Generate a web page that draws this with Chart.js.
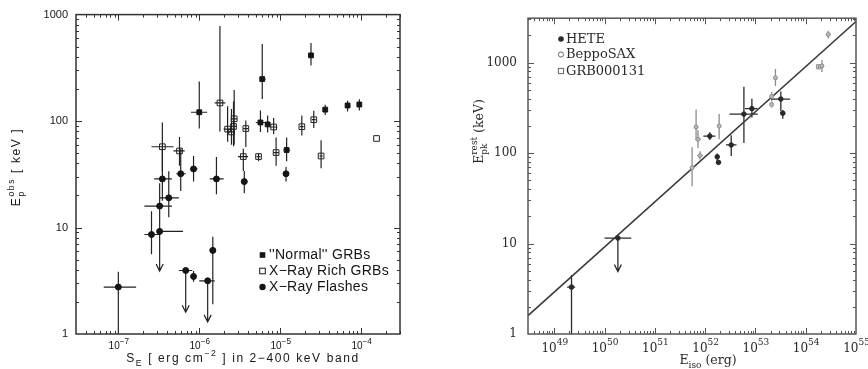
<!DOCTYPE html>
<html><head><meta charset="utf-8">
<script src="https://cdn.jsdelivr.net/npm/chart.js@4/dist/chart.umd.min.js"></script>
<style>
html,body{margin:0;padding:0;background:#fff;}
#wrap{position:relative;width:868px;height:369px;overflow:hidden;}
#c1{position:absolute;left:0;top:0;}
#c2{position:absolute;left:430px;top:0;}
</style></head><body>
<div id="wrap"><canvas id="c1" width="430" height="369"></canvas><canvas id="c2" width="438" height="369"></canvas></div>
<script>
// ================= LEFT PANEL DATA =================
// rows: [S_E, Ep_obs, S_E low, S_E high, Ep low, Ep high]  (null = no bar)
const normalGRBs = [
  [1.0e-6, 121, 7.9e-7, 1.25e-6, 85, 235],
  [6.0e-6, 248, 5.6e-6, 6.6e-6, 161, 530],
  [2.4e-5, 414, null, null, 332, 540],
  [5.7e-6, 97, 5.0e-6, 6.6e-6, 79, 126],
  [7.0e-6, 93, 6.5e-6, 7.5e-6, 78, 113],
  [1.2e-5, 53.5, 1.1e-5, 1.33e-5, 42, 70],
  [3.6e-5, 128, null, null, 114, 142],
  [6.8e-5, 140, null, null, 123, 155],
  [9.5e-5, 143, null, null, 126, 160]
];
const xrayRichGRBs = [
  [3.5e-7, 57.4, 2.57e-7, 4.8e-7, 34, 97],
  [5.7e-7, 52.4, 4.8e-7, 6.6e-7, 38, 71],
  [1.8e-6, 148, 1.55e-6, 2.1e-6, 80, 780],
  [2.24e-6, 84, 2.0e-6, 2.5e-6, 64, 138],
  [2.5e-6, 79, 2.3e-6, 2.7e-6, 60, 130],
  [2.7e-6, 105, 2.45e-6, 2.95e-6, 60, 196],
  [2.65e-6, 89, 2.45e-6, 2.85e-6, 58, 153],
  [3.76e-6, 85, 3.5e-6, 4.0e-6, 57, 101],
  [3.5e-6, 46.4, 3.0e-6, 4.0e-6, 34, 55],
  [5.4e-6, 46.4, 5.1e-6, 5.7e-6, 42, 50],
  [8.9e-6, 50.6, 8.3e-6, 9.6e-6, 38, 70],
  [8.3e-6, 88, 7.5e-6, 9.2e-6, 75, 107],
  [1.85e-5, 88.5, 1.75e-5, 1.95e-5, 73, 113],
  [2.6e-5, 103, 2.45e-5, 2.75e-5, 86, 125],
  [3.2e-5, 47, 3.05e-5, 3.35e-5, 36, 66],
  [1.55e-4, 68.6, null, null, null, null]
];
const xrayFlashes = [
  [1.0e-7, 2.76, 6.6e-8, 1.66e-7, 1.0, 3.85],
  [2.57e-7, 8.6, 2.1e-7, 3.3e-7, 5.6, 14.2],
  [3.24e-7, 15.9, 2.1e-7, 4.6e-7, 9.5, 26],
  [3.5e-7, 28.6, 2.77e-7, 4.6e-7, 17.8, 55],
  [4.2e-7, 19, 3.2e-7, 5.6e-7, 12.5, 33.7],
  [5.9e-7, 32, 5.2e-7, 6.8e-7, 22, 55],
  [8.5e-7, 35.5, 7.7e-7, 9.5e-7, 27, 47],
  [1.63e-6, 28.6, 1.35e-6, 2.0e-6, 20.5, 46],
  [3.6e-6, 27, 3.3e-6, 3.9e-6, 21, 34],
  [1.18e-5, 32, null, null, 27, 37],
  [8.5e-7, 3.47, 8.0e-7, 9.0e-7, 3.1, 3.9],
  [1.47e-6, 6.1, 1.35e-6, 1.6e-6, 1.9, 8.2]
];
// upper limits: [S_E, Ep, S_E low, S_E high, arrow tip Ep]
const xrayFlashLimits = [
  [3.24e-7, 9.2, 2.98e-7, 6.3e-7, 3.9],
  [6.8e-7, 3.95, 5.6e-7, 8.2e-7, 1.6],
  [1.27e-6, 3.16, 1.0e-6, 1.55e-6, 1.3]
];
const leftXRange = [3.37e-8, 3.02e-4];
const leftYRange = [1, 1000];
const leftXTicks = [1e-7, 1e-6, 1e-5, 1e-4];
const leftXTickExponents = ['\u22127', '\u22126', '\u22125', '\u22124'];
const leftYTicks = [1, 10, 100, 1000];
const leftYTickLabels = ['1', '10', '100', '1000'];
const leftLegend = ["''Normal'' GRBs", 'X\u2212Ray Rich GRBs', 'X\u2212Ray Flashes'];

// ================= RIGHT PANEL DATA =================
// rows: [E_iso, Epk_rest, E_iso low, E_iso high, Epk low, Epk high]
const heteBursts = [
  [2.2e49, 3.3, 1.8e49, 2.6e49, 1.0, 4.5],
  [1.24e52, 154, 9.2e51, 1.6e52, 140, 170],
  [1.74e52, 91, 1.6e52, 1.9e52, 83, 99],
  [1.84e52, 79, null, null, null, null],
  [3.3e52, 123, 2.6e52, 4.2e52, 93, 158],
  [5.9e52, 270, 3.05e52, 1.11e53, 129, 540],
  [8.5e52, 310, 6.2e52, 1.1e53, 248, 400],
  [3.2e53, 396, 2.05e53, 4.9e53, 290, 480],
  [3.5e53, 276, 3.1e53, 3.9e53, 240, 300]
];
// upper limit: [E_iso, Epk, E_iso low, E_iso high, arrow tip]
const heteLimits = [
  [1.84e50, 11.5, 1.0e50, 3.4e50, 4.9]
];
const beppoSAX = [
  [5.5e51, 69, null, null, 43, 116],
  [6.6e51, 194, 6.0e51, 7.3e51, 146, 303],
  [7.2e51, 142, 6.3e51, 8.2e51, 114, 179],
  [7.9e51, 94, 7.0e51, 9.0e51, 85, 105],
  [1.9e52, 199, null, null, 142, 270],
  [2.1e53, 423, 1.9e53, 2.3e53, 375, 475],
  [2.1e53, 344, null, null, 320, 370],
  [2.5e53, 680, null, null, 553, 850],
  [2.1e54, 920, 1.9e54, 2.3e54, 790, 1070],
  [2.8e54, 2050, 2.55e54, 3.1e54, 1850, 2250]
];
const grb000131 = [
  [1.8e54, 900, 1.7e54, 1.9e54, 850, 950]
];
const amatiLine = [[3e48, 1.6], [1e55, 2850]];
const rightXRange = [3e48, 1e55];
const rightYRange = [1, 3100];
const rightXTicks = [1e49, 1e50, 1e51, 1e52, 1e53, 1e54, 1e55];
const rightXTickExponents = ['49', '50', '51', '52', '53', '54', '55'];
const rightYTicks = [1, 10, 100, 1000];
const rightYTickLabels = ['1', '10', '100', '1000'];
const rightLegend = ['HETE', 'BeppoSAX', 'GRB000131'];

// ================= HELPERS =================
const toPts = rows => rows.map(r => ({x: r[0], y: r[1]}));
function tickLabeler(ticks, labels) {
  return v => {
    const i = ticks.findIndex(t => Math.abs(Math.log10(t) - Math.log10(v)) < 1e-6);
    return i >= 0 ? labels[i] : '';
  };
}
function measureParts(ctx, parts, fam, size, ratio) {
  let w = 0;
  parts.forEach(p => {
    if (p.t !== undefined) { ctx.font = size + 'px ' + fam; p._w = ctx.measureText(p.t).width; }
    else {
      ctx.font = (size * ratio) + 'px ' + fam;
      p._w = Math.max(p.sub ? ctx.measureText(p.sub).width : 0, p.sup ? ctx.measureText(p.sup).width : 0);
    }
    w += p._w;
  });
  return w;
}
function drawParts(ctx, parts, fam, size, cx, by, spacing, ratio, supRise) {
  ratio = ratio || 0.72; supRise = supRise || 0.5;
  ctx.save();
  ctx.letterSpacing = (spacing || 0) + 'px';
  const w = measureParts(ctx, parts, fam, size, ratio);
  let x = cx - w / 2;
  ctx.textAlign = 'left'; ctx.textBaseline = 'alphabetic';
  parts.forEach(p => {
    if (p.t !== undefined) { ctx.font = size + 'px ' + fam; ctx.fillText(p.t, x, by); }
    else {
      ctx.font = (size * ratio) + 'px ' + fam;
      if (p.sub) ctx.fillText(p.sub, x, by + size * 0.35);
      if (p.sup) ctx.fillText(p.sup, x, by - size * supRise);
    }
    x += p._w;
  });
  ctx.restore();
}
function drawLogTicks(ctx, sc, a, horiz, maj, mnr) {
  const e0 = Math.floor(Math.log10(sc.min)), e1 = Math.ceil(Math.log10(sc.max));
  ctx.beginPath();
  for (let e = e0; e <= e1; e++) for (let m = 1; m <= 9; m++) {
    const v = m * Math.pow(10, e);
    if (v < sc.min * 1.0001 || v > sc.max * 0.9999) continue;
    const p = Math.round(sc.getPixelForValue(v)) + 0.5;
    const L = m === 1 ? maj : mnr;
    if (horiz) {
      ctx.moveTo(p, a.bottom); ctx.lineTo(p, a.bottom - L);
      ctx.moveTo(p, a.top); ctx.lineTo(p, a.top + L);
    } else {
      ctx.moveTo(a.left, p); ctx.lineTo(a.left + L, p);
      ctx.moveTo(a.right, p); ctx.lineTo(a.right - L, p);
    }
  }
  ctx.stroke();
}
function drawArrowDown(ctx, x, y0, y1, hw, hl) {
  ctx.beginPath();
  ctx.moveTo(x, y0); ctx.lineTo(x, y1);
  ctx.moveTo(x - hw, y1 - hl); ctx.lineTo(x, y1); ctx.lineTo(x + hw, y1 - hl);
  ctx.stroke();
}
function errorPlugin(id, sets) {
  return {
    id: id,
    beforeDatasetsDraw(chart) {
      const {ctx, chartArea: a} = chart;
      const xs = chart.scales.x, ys = chart.scales.y;
      ctx.save();
      ctx.beginPath(); ctx.rect(a.left, a.top, a.right - a.left, a.bottom - a.top); ctx.clip();
      sets.forEach(s => {
        ctx.strokeStyle = s.color; ctx.lineWidth = s.width; ctx.lineCap = 'butt';
        (s.bars || []).forEach(d => {
          const px = xs.getPixelForValue(d[0]), py = ys.getPixelForValue(d[1]);
          ctx.beginPath();
          if (d[2] != null) { ctx.moveTo(xs.getPixelForValue(d[2]), py); ctx.lineTo(xs.getPixelForValue(d[3]), py); }
          if (d[4] != null) { ctx.moveTo(px, ys.getPixelForValue(d[4])); ctx.lineTo(px, ys.getPixelForValue(d[5])); }
          ctx.stroke();
        });
        (s.limits || []).forEach(d => {
          const px = xs.getPixelForValue(d[0]), py = ys.getPixelForValue(d[1]);
          ctx.beginPath();
          ctx.moveTo(xs.getPixelForValue(d[2]), py); ctx.lineTo(xs.getPixelForValue(d[3]), py);
          ctx.stroke();
          drawArrowDown(ctx, px, py, ys.getPixelForValue(d[4]), s.hw, s.hl);
        });
      });
      ctx.restore();
    }
  };
}

// ================= LEFT CHART =================
const LFONT = '"Liberation Sans", Arial, sans-serif';
const INK = '#151515';
const leftDecor = {
  id: 'leftDecor',
  afterDraw(chart) {
    const {ctx, chartArea: a} = chart;
    const xs = chart.scales.x;
    ctx.save();
    ctx.strokeStyle = '#333'; ctx.lineWidth = 1;
    drawLogTicks(ctx, xs, a, true, 6, 3);
    drawLogTicks(ctx, chart.scales.y, a, false, 6, 3);
    ctx.lineWidth = 1.5; ctx.strokeStyle = '#333';
    ctx.strokeRect(a.left, a.top, a.right - a.left, a.bottom - a.top);
    ctx.fillStyle = INK;
    leftXTicks.forEach((t, i) => {
      drawParts(ctx, [{t: '10'}, {sup: leftXTickExponents[i]}], LFONT, 10, xs.getPixelForValue(t) + 0.5, 349, 0, 0.82, 0.55);
    });
    // legend
    const rows = [255, 271, 287];
    ctx.strokeStyle = INK; ctx.lineWidth = 1;
    const mx = 262.5;
    ctx.fillRect(mx - 2.8, rows[0] - 2.8, 5.6, 5.6);
    ctx.strokeRect(mx - 2.8, rows[1] - 2.8, 5.6, 5.6);
    ctx.beginPath(); ctx.arc(mx, rows[2], 3.2, 0, Math.PI * 2); ctx.fill();
    ctx.font = '14px ' + LFONT; ctx.textBaseline = 'middle'; ctx.textAlign = 'left';
    ctx.letterSpacing = '0.3px';
    leftLegend.forEach((t, i) => ctx.fillText(t, 269, rows[i] + 0.5));
    ctx.letterSpacing = '0px';
    // axis titles
    drawParts(ctx, [{t: 'S'}, {sub: 'E'}, {t: ' [ erg cm'}, {sup: '\u22122'}, {t: ' ] in 2\u2212400 keV band'}], LFONT, 12, 243, 362, 1.6);
    ctx.save();
    ctx.translate(19.5, 167); ctx.rotate(-Math.PI / 2);
    drawParts(ctx, [{t: 'E'}, {sub: 'p', sup: 'obs'}, {t: ' [ keV ]'}], LFONT, 12, 0, 0, 1.6);
    ctx.restore();
    ctx.restore();
  }
};

new Chart(document.getElementById('c1'), {
  type: 'scatter',
  data: {
    datasets: [
      {label: leftLegend[0], data: toPts(normalGRBs), pointStyle: 'rect', pointRadius: 3.4, pointHoverRadius: 3.4,
       backgroundColor: INK, borderColor: INK, borderWidth: 1},
      {label: leftLegend[1], data: toPts(xrayRichGRBs), pointStyle: 'rect', pointRadius: 4.0, pointHoverRadius: 4.0,
       backgroundColor: 'rgba(255,255,255,0)', borderColor: '#222', borderWidth: 1},
      {label: leftLegend[2], data: toPts(xrayFlashes.concat(xrayFlashLimits)), pointStyle: 'circle', pointRadius: 3.0, pointHoverRadius: 3.0,
       backgroundColor: INK, borderColor: INK, borderWidth: 1}
    ]
  },
  options: {
    responsive: false, animation: false, devicePixelRatio: 1,
    layout: {padding: {top: 10, right: 30, left: 0, bottom: 0}},
    plugins: {legend: {display: false}, tooltip: {enabled: false}},
    scales: {
      x: {type: 'logarithmic', min: leftXRange[0], max: leftXRange[1],
          grid: {display: false, drawTicks: false}, border: {display: false},
          afterFit: s => { s.height = 35; },
          ticks: {display: false}},
      y: {type: 'logarithmic', min: leftYRange[0], max: leftYRange[1],
          grid: {display: false, drawTicks: false}, border: {display: false},
          afterFit: s => { s.width = 76; },
          ticks: {autoSkip: false, padding: 8, color: INK, font: {family: LFONT, size: 11},
                  callback: tickLabeler(leftYTicks, leftYTickLabels)}}
    }
  },
  plugins: [errorPlugin('leftErr', [
    {color: '#222', width: 1.2, bars: normalGRBs.concat(xrayRichGRBs, xrayFlashes), limits: xrayFlashLimits, hw: 3.5, hl: 7}
  ]), leftDecor]
});

// ================= RIGHT CHART =================
const RFONT = '"DejaVu Serif", "Liberation Serif", serif';
const RINK = '#2a2a2a';
const GREY = '#8c8c8c';
const rightDecor = {
  id: 'rightDecor',
  afterDraw(chart) {
    const {ctx, chartArea: a} = chart;
    const xs = chart.scales.x;
    ctx.save();
    ctx.strokeStyle = '#555'; ctx.lineWidth = 1;
    drawLogTicks(ctx, xs, a, true, 6, 3);
    drawLogTicks(ctx, chart.scales.y, a, false, 6, 3);
    ctx.lineWidth = 1.5; ctx.strokeStyle = '#555';
    ctx.strokeRect(a.left, a.top, a.right - a.left, a.bottom - a.top);
    ctx.fillStyle = RINK;
    rightXTicks.forEach((t, i) => {
      drawParts(ctx, [{t: '10'}, {sup: rightXTickExponents[i]}], RFONT, 12, xs.getPixelForValue(t) + 0.5, 352, 0, 0.75, 0.55);
    });
    // legend
    const rows = [39, 54.5, 71];
    const mx = 131;
    ctx.beginPath(); ctx.arc(mx, rows[0], 2.8, 0, Math.PI * 2); ctx.fill();
    ctx.strokeStyle = '#666'; ctx.lineWidth = 1;
    ctx.beginPath(); ctx.arc(mx, rows[1], 2.6, 0, Math.PI * 2); ctx.stroke();
    ctx.strokeRect(mx - 2.6, rows[2] - 2.6, 5.2, 5.2);
    ctx.font = '13px ' + RFONT; ctx.textBaseline = 'middle'; ctx.textAlign = 'left';
    rightLegend.forEach((t, i) => ctx.fillText(t, 136, rows[i] + 0.5));
    // axis titles
    drawParts(ctx, [{t: 'E'}, {sub: 'iso'}, {t: ' (erg)'}], RFONT, 12.5, 278, 364, 0);
    ctx.save();
    ctx.translate(53, 131.5); ctx.rotate(-Math.PI / 2);
    drawParts(ctx, [{t: 'E'}, {sub: 'pk', sup: 'rest'}, {t: ' (keV)'}], RFONT, 12.5, 0, 0, 0);
    ctx.restore();
    ctx.restore();
  }
};

new Chart(document.getElementById('c2'), {
  type: 'scatter',
  data: {
    datasets: [
      {label: rightLegend[0], data: toPts(heteBursts.concat(heteLimits)), pointStyle: 'circle', pointRadius: 2.3, pointHoverRadius: 2.3,
       backgroundColor: RINK, borderColor: RINK, borderWidth: 1},
      {label: rightLegend[1], data: toPts(beppoSAX), pointStyle: 'circle', pointRadius: 2.0, pointHoverRadius: 2.0,
       backgroundColor: '#bbb', borderColor: GREY, borderWidth: 1},
      {label: rightLegend[2], data: toPts(grb000131), pointStyle: 'rect', pointRadius: 3.0, pointHoverRadius: 3.0,
       backgroundColor: 'rgba(255,255,255,0)', borderColor: GREY, borderWidth: 1},
      {label: 'fit', data: amatiLine.map(p => ({x: p[0], y: p[1]})), showLine: true, pointRadius: 0,
       borderColor: '#3a3a3a', borderWidth: 1.6, fill: false}
    ]
  },
  options: {
    responsive: false, animation: false, devicePixelRatio: 1,
    layout: {padding: {top: 7, right: 12, left: 0, bottom: 0}},
    plugins: {legend: {display: false}, tooltip: {enabled: false}},
    scales: {
      x: {type: 'logarithmic', min: rightXRange[0], max: rightXRange[1],
          grid: {display: false, drawTicks: false}, border: {display: false},
          afterFit: s => { s.height = 35; },
          ticks: {display: false}},
      y: {type: 'logarithmic', min: rightYRange[0], max: rightYRange[1],
          grid: {display: false, drawTicks: false}, border: {display: false},
          afterFit: s => { s.width = 98; },
          ticks: {autoSkip: false, padding: 11, color: RINK, font: {family: RFONT, size: 12},
                  callback: tickLabeler(rightYTicks, rightYTickLabels)}}
    }
  },
  plugins: [errorPlugin('rightErr', [
    {color: GREY, width: 1.3, bars: beppoSAX.concat(grb000131)},
    {color: RINK, width: 1.3, bars: heteBursts, limits: heteLimits, hw: 3.5, hl: 7}
  ]), rightDecor]
});
</script>
</body></html>
